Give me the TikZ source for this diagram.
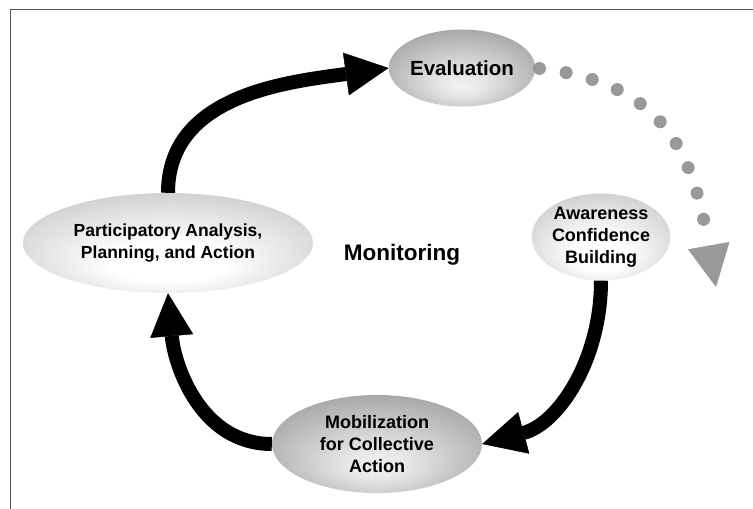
\documentclass[tikz,border=0pt]{standalone}
\usepackage{fontspec}
\setmainfont{Liberation Sans}
\usetikzlibrary{shapes.geometric}
\usetikzlibrary{arrows.meta}
\usetikzlibrary{positioning}

\pgfdeclareradialshading{darkglow}{\pgfpoint{0bp}{-12bp}}{color(0bp)=(black!5); color(8bp)=(black!10); color(50bp)=(black!56)}
\pgfdeclareradialshading{paleglow}{\pgfpoint{0bp}{-12bp}}{color(0bp)=(white); color(10bp)=(white); color(50bp)=(black!36)}

\begin{document}
\begin{tikzpicture}[x=1pt,y=1pt,
  oval/.style={ellipse,inner sep=0pt,align=center,shade,
    font=\bfseries\fontsize{18}{22}\selectfont},
  grayoval/.style={oval,shading=darkglow},
  paleoval/.style={oval,shading=paleglow},
  flow/.style={line width=14pt,-{Triangle[length=43pt,width=43pt,line width=0.5pt]}},
  dots/.style={draw=black!40,line width=13pt,line cap=round,
    dash pattern=on 0pt off 27pt,dash phase=23pt,
    -{Triangle[length=42pt,width=42pt,line width=0.5pt,fill=black!40]}}]
 \useasboundingbox (0,0) rectangle (753,-509);
 \draw[black!65,line width=1pt] (10.5,-509) -- (10.5,-9.5) -- (753,-9.5);

 \node[grayoval,name=eval,minimum width=132pt,minimum height=77pt,
   font=\bfseries\fontsize{20.5}{24}\selectfont] at (462,-68)  {Evaluation};
 \node[paleoval,name=aware,minimum width=133pt,minimum height=87pt] at (601,-237) {Awareness\\Confidence\\Building};
 \node[grayoval,name=mob,  minimum width=210pt,minimum height=98pt] at (377,-444) {Mobilization\\for Collective\\Action};
 \node[paleoval,name=part, minimum width=290pt,minimum height=100pt,
   font=\bfseries\fontsize{17.5}{21.5}\selectfont] at (168,-243) {Participatory Analysis,\\Planning, and Action};
 \node[name=mon,font=\bfseries\fontsize{22.5}{27}\selectfont] at (402,-255) {Monitoring};
 \coordinate (drop) at (716,-287);

 \draw[flow] (part.north) to[out=90,in=188] (eval.west);
 \draw[flow] (aware.south) to[out=-90,in=15]  (mob.east);
 \draw[flow] (mob.west)    to[out=180,in=-85] (part.south);
 \draw[dots] (eval.east)   to[out=-6,in=100,looseness=1.2] (drop);
\end{tikzpicture}
\end{document}
